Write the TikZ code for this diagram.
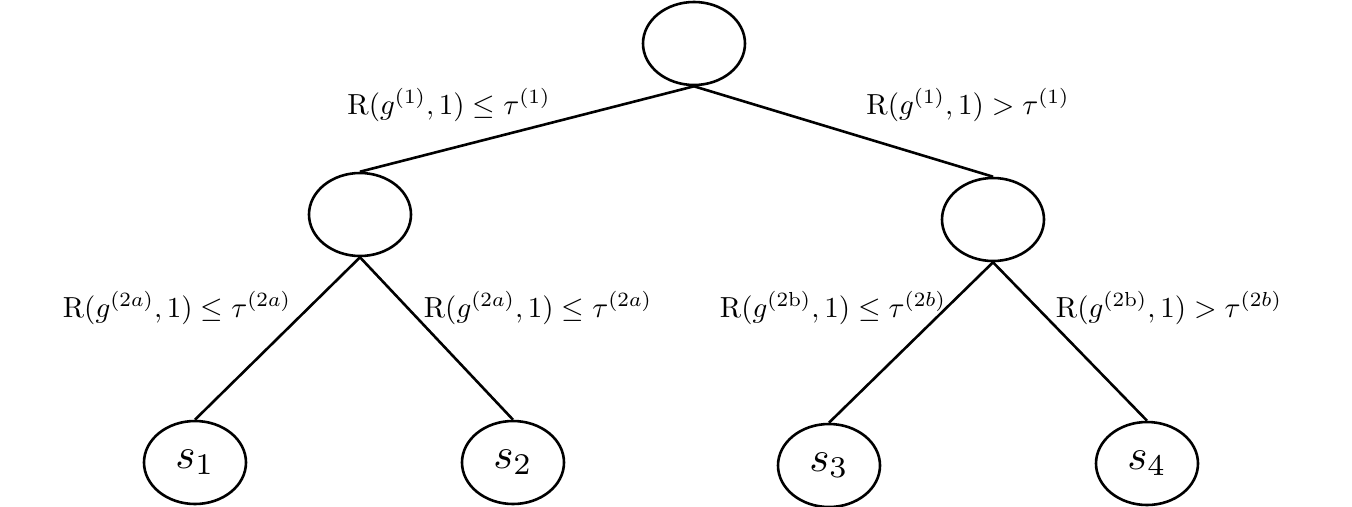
\documentclass[tikz,border=0pt]{standalone}
\usepackage{graphicx}
\usetikzlibrary{shapes.geometric}
\newcommand{\lbl}[1]{\scalebox{2.9}{$#1$}}
\newcommand{\leaf}[1]{\scalebox{4.3}{$#1$}}
\begin{document}
\begin{tikzpicture}[x=1pt,y=-1pt,
  st/.style={draw,ellipse,line width=2.6pt,minimum width=102pt,minimum height=83pt,inner sep=0pt},
  edge/.style={line width=2.6pt},
  lab/.style={inner sep=0pt}]
\useasboundingbox (0,0) rectangle (1352,506);
\node[st] (r) at (694,43.5) {};
\node[st] (a) at (360,214.5) {};
\node[st] (b) at (993,219.5) {};
\node[st] (s1) at (195,462.5) {\leaf{s_1}};
\node[st] (s2) at (513,462.5) {\leaf{s_2}};
\node[st] (s3) at (829,465.5) {\leaf{s_3}};
\node[st] (s4) at (1147,463.5) {\leaf{s_4}};
\draw[edge] (r.south) -- (a.north);
\draw[edge] (r.south) -- (b.north);
\draw[edge] (a.south) -- (s1.north);
\draw[edge] (a.south) -- (s2.north);
\draw[edge] (b.south) -- (s3.north);
\draw[edge] (b.south) -- (s4.north);
\node[lab] (l1) at (449,105) {\lbl{\mathrm{R}(g^{(1)},1)\leq\tau^{(1)}}};
\node[lab] (l2) at (968,105) {\lbl{\mathrm{R}(g^{(1)},1)>\tau^{(1)}}};
\node[lab] (l3) at (177,308) {\lbl{\mathrm{R}(g^{(2a)},1)\leq\tau^{(2a)}}};
\node[lab] (l4) at (538,308) {\lbl{\mathrm{R}(g^{(2a)},1)\leq\tau^{(2a)}}};
\node[lab] (l5) at (833,308) {\lbl{\mathrm{R}(g^{(2\mathrm{b})},1)\leq\tau^{(2b)}}};
\node[lab] (l6) at (1169,308) {\lbl{\mathrm{R}(g^{(2\mathrm{b})},1)>\tau^{(2b)}}};
\end{tikzpicture}
\end{document}
